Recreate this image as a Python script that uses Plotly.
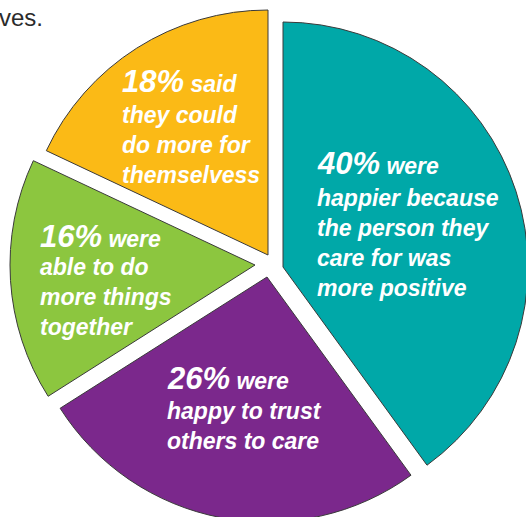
import plotly.graph_objects as go

# ---- data ----
percents = [40, 26, 16, 18]
pct_words = ["were", "were", "were", "said"]
descriptions = [
    ["happier because", "the person they", "care for was", "more positive"],
    ["happy to trust", "others to care"],
    ["able to do", "more things", "together"],
    ["they could", "do more for", "themselvess"],
]
colors = ["#00A8A8", "#7B288C", "#8CC63F", "#FBBA16"]
intro_fragment = "ves."

W, H = 528, 523
R = 245
# exploded position of each slice's tip (px from top-left)
tips = [(283, 267), (267, 277), (255, 265), (268, 255)]

fig = go.Figure()
for k, (tx, ty) in enumerate(tips):
    x0, x1 = (tx - R) / W, (tx + R) / W
    y0, y1 = 1 - (ty + R) / H, 1 - (ty - R) / H
    fig.add_trace(go.Pie(
        values=percents,
        labels=[f"{p}%" for p in percents],
        sort=False,
        direction="clockwise",
        rotation=0,
        marker=dict(
            colors=[c if i == k else "rgba(0,0,0,0)" for i, c in enumerate(colors)],
            line=dict(color="#3a3a3a", width=[1 if i == k else 0 for i in range(len(colors))]),
        ),
        textinfo="none",
        hoverinfo="none",
        showlegend=False,
        domain=dict(x=[max(0, x0), min(1, x1)], y=[max(0, y0), min(1, y1)]),
    ))

# label positions: (left px, headline middle px, body middle px)
label_pos = [(315, 163, 243), (165, 378, 426), (38, 236, 297), (120, 82, 145)]

FONT = "Liberation Sans, Arial, sans-serif"
annotations = []
for p, w, desc, (lx, hy, by) in zip(percents, pct_words, descriptions, label_pos):
    annotations.append(dict(
        x=lx / W, y=1 - hy / H, xref="paper", yref="paper",
        xanchor="left", yanchor="middle", align="left",
        text=f"<b><i><span style='font-size:31px'>{p}%</span> {w}</i></b>",
        showarrow=False,
        font=dict(family=FONT, size=23, color="white"),
    ))
    annotations.append(dict(
        x=lx / W, y=1 - by / H, xref="paper", yref="paper",
        xanchor="left", yanchor="middle", align="left",
        text="<b><i>" + "<br>".join(desc) + "</i></b>",
        showarrow=False,
        font=dict(family=FONT, size=23, color="white"),
    ))

annotations.append(dict(
    x=-3 / W, y=1 - 17 / H, xref="paper", yref="paper",
    xanchor="left", yanchor="middle", align="left",
    text=intro_fragment, showarrow=False,
    font=dict(family=FONT, size=24, color="#2b2b2b"),
))

fig.update_layout(
    width=W, height=H,
    margin=dict(l=0, r=0, t=0, b=0),
    paper_bgcolor="white", plot_bgcolor="white",
    annotations=annotations,
)

fig.write_html("out.html")
